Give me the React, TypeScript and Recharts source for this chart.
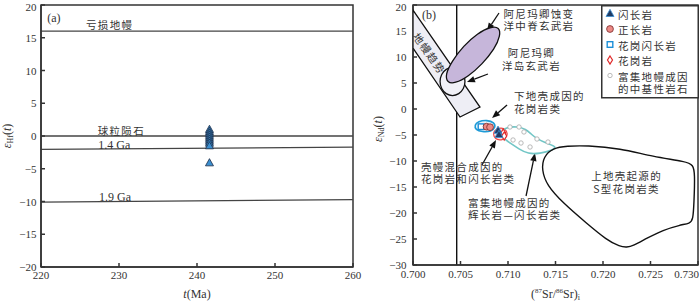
import React from "react";
import { ReferenceArea, ReferenceLine, Scatter, ScatterChart, XAxis, YAxis } from "recharts";

const SERIF = '"Liberation Serif", "DejaVu Serif", serif';
const CJK = '"Noto Sans CJK SC", "Noto Sans", sans-serif';
const INK = "#333";

// ---------- (a) εHf(t) – t(Ma) ----------
const ageTicks = [220, 230, 240, 250, 260];
const hfTicks = [20, 15, 10, 5, 0, -5, -10, -15, -20];
const dioriteAge = [241.6, 241.6, 241.6, 241.6, 241.6, 241.6, 241.6, 241.6, 241.6, 241.6];
const dioriteHf = [1.0, 0.7, 0.4, 0.1, -0.2, -0.5, -0.8, -1.1, -1.5, -4.1];
const hfLineNames = ["亏损地幔", "球粒陨石", "1.4 Ga", "1.9 Ga"];
const hfLineAt220 = [16, 0, -2.05, -10.1];
const hfLineAt260 = [16, 0, -1.7, -9.7];

// ---------- (b) εNd(t) – (87Sr/86Sr)i ----------
const srTicks = [0.7, 0.705, 0.71, 0.715, 0.72, 0.725, 0.73];
const ndTicks = [20, 15, 10, 5, 0, -5, -10, -15, -20, -25, -30];
const bulkEarthSr = 0.7046;

const mantleArray = [
  { x: 0.7, y: 19.0 }, { x: 0.70705, y: 0.38 }, { x: 0.70495, y: -1.54 }, { x: 0.7, y: 11.7 },
];
const oceanIslandBasalt = [
  { x: 0.70553, y: 5.29 }, { x: 0.70535, y: 6.7 }, { x: 0.70484, y: 7.73 }, { x: 0.70416, y: 8.12 },
  { x: 0.70347, y: 7.73 }, { x: 0.70297, y: 6.7 }, { x: 0.70279, y: 5.29 }, { x: 0.70297, y: 3.88 },
  { x: 0.70347, y: 2.85 }, { x: 0.70416, y: 2.46 }, { x: 0.70484, y: 2.85 }, { x: 0.70535, y: 3.88 },
];
const midRidgeBasalt = [
  { x: 0.7091, y: 15.71 }, { x: 0.7092, y: 14.13 }, { x: 0.7086, y: 11.56 }, { x: 0.7073, y: 8.65 },
  { x: 0.7058, y: 6.21 }, { x: 0.7044, y: 4.9 }, { x: 0.7036, y: 5.06 }, { x: 0.7034, y: 6.63 },
  { x: 0.7041, y: 9.21 }, { x: 0.7053, y: 12.12 }, { x: 0.7068, y: 14.56 }, { x: 0.7082, y: 15.87 },
];
const lowerCrustField = [
  { x: 0.70684, y: -2.4 }, { x: 0.70779, y: -2.1 }, { x: 0.70858, y: -2.6 }, { x: 0.70868, y: -3.56 },
  { x: 0.70826, y: -4.33 }, { x: 0.70726, y: -4.43 }, { x: 0.70658, y: -3.98 }, { x: 0.70648, y: -3.08 },
];
const hybridField = [
  { x: 0.70874, y: -3.85 }, { x: 0.70947, y: -3.56 }, { x: 0.7099, y: -4.23 }, { x: 0.70995, y: -5.19 },
  { x: 0.70947, y: -5.96 }, { x: 0.70884, y: -5.96 }, { x: 0.70847, y: -5.29 }, { x: 0.70847, y: -4.42 },
];
const enrichedMantleField = [
  { x: 0.70926, y: -4.23 }, { x: 0.71, y: -3.46 }, { x: 0.71095, y: -3.37 }, { x: 0.71189, y: -3.85 },
  { x: 0.71242, y: -4.81 }, { x: 0.71305, y: -5.77 }, { x: 0.71411, y: -6.63 }, { x: 0.71516, y: -7.21 },
  { x: 0.71463, y: -7.98 }, { x: 0.71337, y: -8.56 }, { x: 0.71211, y: -8.65 }, { x: 0.71116, y: -7.69 },
  { x: 0.71021, y: -6.54 }, { x: 0.70947, y: -5.58 },
];
const upperCrustField = [
  { x: 0.71355, y: -11.73 }, { x: 0.71372, y: -9.17 }, { x: 0.71474, y: -7.5 }, { x: 0.71618, y: -7.12 },
  { x: 0.71828, y: -7.02 }, { x: 0.72179, y: -7.56 }, { x: 0.72526, y: -9.17 }, { x: 0.72881, y: -10.13 },
  { x: 0.72947, y: -10.77 }, { x: 0.72968, y: -12.31 }, { x: 0.72958, y: -18.08 }, { x: 0.72947, y: -21.35 },
  { x: 0.72916, y: -21.98 }, { x: 0.72811, y: -22.31 }, { x: 0.72632, y: -23.27 }, { x: 0.7246, y: -24.87 },
  { x: 0.72316, y: -26.35 }, { x: 0.7225, y: -26.6 }, { x: 0.72179, y: -26.48 }, { x: 0.72039, y: -25.19 },
  { x: 0.71828, y: -21.98 }, { x: 0.71582, y: -18.13 }, { x: 0.71407, y: -14.62 },
];

const dioriteSrNd = [{ x: 0.70895, y: -4.1 }, { x: 0.70905, y: -4.9 }];
const syeniteSrNd = [{ x: 0.70774, y: -3.4 }, { x: 0.70811, y: -3.5 }];
const granodioriteSrNd = [{ x: 0.70716, y: -3.4 }];
const graniteSrNd = [{ x: 0.7095, y: -4.6 }, { x: 0.7096, y: -5.2 }];
const enrichedRocksSrNd = [
  { x: 0.71021, y: -3.46 }, { x: 0.71116, y: -3.46 }, { x: 0.71053, y: -5.96 }, { x: 0.71137, y: -6.54 },
  { x: 0.71232, y: -7.31 }, { x: 0.71305, y: -5.77 }, { x: 0.71421, y: -6.35 }, { x: 0.71168, y: -4.42 },
];

// arrows: tail -> head
const arrowsB = [
  [{ x: 0.70905, y: 18.46 }, { x: 0.70779, y: 15.0 }],
  [{ x: 0.70789, y: 6.73 }, { x: 0.70568, y: 5.19 }],
  [{ x: 0.7099, y: 0.77 }, { x: 0.70832, y: -1.73 }],
  [{ x: 0.70726, y: -10.77 }, { x: 0.70874, y: -5.96 }],
  [{ x: 0.7119, y: -16.73 }, { x: 0.71284, y: -8.46 }],
];

const notesA = [
  { x: 228.8, y: 17.1, lines: ["亏损地幔"], anchor: "middle", font: CJK },
  { x: 230.3, y: 0.9, lines: ["球粒陨石"], anchor: "middle", font: CJK },
  { x: 229.4, y: -1.45, lines: ["1.4 Ga"], anchor: "middle", font: SERIF },
  { x: 229.5, y: -9.3, lines: ["1.9 Ga"], anchor: "middle", font: SERIF },
  { x: 220.8, y: 18.0, lines: ["(a)"], anchor: "start", font: SERIF },
];
const notesB = [
  { x: 0.70095, y: 18.08, lines: ["(b)"], anchor: "start", font: SERIF },
  { x: 0.70179, y: 10.77, lines: ["地幔趋势"], anchor: "middle", font: CJK, rotate: 55 },
  { x: 0.71326, y: 18.55, lines: ["阿尼玛卿蚀变", "洋中脊玄武岩"], anchor: "middle", font: CJK },
  { x: 0.71247, y: 10.9, lines: ["阿尼玛卿", "洋岛玄武岩"], anchor: "middle", font: CJK },
  { x: 0.71063, y: 2.6, lines: ["下地壳成因的", "花岗岩类"], anchor: "start", font: CJK },
  { x: 0.70084, y: -10.95, lines: ["壳幔混合成因的", "花岗岩和闪长岩类"], anchor: "start", font: CJK },
  { x: 0.70579, y: -17.85, lines: ["富集地幔成因的", "辉长岩—闪长岩类"], anchor: "start", font: CJK },
  { x: 0.72248, y: -12.75, lines: ["上地壳起源的", "S型花岗岩类"], anchor: "middle", font: CJK },
];

const legendItems = [["闪长岩"], ["正长岩"], ["花岗闪长岩"], ["花岗岩"], ["富集地幔成因", "的中基性岩石"]];

const LINE_GAP = 12.5;
const minus = (v: number) => String(v).replace("-", "−");
const axisLine = { stroke: INK, strokeWidth: 1.5 };

// tick labels drawn at the positions recharts hands over
const YTick = (p: any) => (
  <text
    x={p.x}
    y={p.payload.value === 20 ? p.y + 1.5 : p.y}
    textAnchor="end"
    dominantBaseline="central"
    fontFamily={SERIF}
    fontSize={11}
    fill={INK}
  >
    {minus(p.payload.value)}
  </text>
);
const AgeTick = (p: any) => (
  <text x={p.x} y={p.y} textAnchor="middle" dominantBaseline="hanging" fontFamily={SERIF} fontSize={11} fill={INK}>
    {p.payload.value}
  </text>
);
const SrTick = (p: any) => {
  const last = p.index === srTicks.length - 1;
  return (
    <text x={last ? p.x + 1 : p.x} y={p.y} textAnchor={last ? "end" : "middle"} dominantBaseline="hanging" fontFamily={SERIF} fontSize={11} fill={INK}>
      {p.payload.value.toFixed(3)}
    </text>
  );
};

const Hidden = () => <g />;

const Note = (p: any) => {
  const n = p.payload;
  const serif = n.font === SERIF;
  return (
    <text
      x={p.cx}
      y={p.cy}
      textAnchor={n.anchor}
      dominantBaseline="central"
      fontFamily={n.font}
      fontSize={serif ? 12 : 10.5}
      letterSpacing={serif ? 0 : 1.3}
      fill={INK}
      transform={n.rotate ? `rotate(${n.rotate} ${p.cx} ${p.cy})` : undefined}
    >
      {n.lines.map((t: string, i: number) => (
        <tspan key={i} x={p.cx} dy={i === 0 ? 0 : LINE_GAP}>
          {t}
        </tspan>
      ))}
    </text>
  );
};

const Tri = ({ cx, cy, fill, stroke }: any) => (
  <polygon points={`${cx},${cy - 4.2} ${cx + 4},${cy + 3} ${cx - 4},${cy + 3}`} fill={fill} stroke={stroke} strokeWidth={0.8} />
);
const Dot = ({ cx, cy }: any) => <circle cx={cx} cy={cy} r={3.4} fill="#ec8a86" stroke="#7a2a2a" strokeWidth={0.8} />;
const Box = ({ cx, cy }: any) => (
  <rect x={cx - 2.8} y={cy - 2.8} width={5.6} height={5.6} fill="#fff" stroke="#1c8fd8" strokeWidth={1.4} />
);
const Diamond = ({ cx, cy }: any) => (
  <polygon points={`${cx},${cy - 4} ${cx + 2.5},${cy} ${cx},${cy + 4} ${cx - 2.5},${cy}`} fill="#fff" stroke="#e02828" strokeWidth={1.2} />
);
const Ring = ({ cx, cy }: any) => <circle cx={cx} cy={cy} r={2.2} fill="#fff" stroke="#a8a8a8" strokeWidth={0.8} />;

const Arrow = (p: any) => {
  const { x1, y1, x2, y2 } = p;
  const a = Math.atan2(y2 - y1, x2 - x1);
  const bx = x2 - 8 * Math.cos(a);
  const by = y2 - 8 * Math.sin(a);
  const s = Math.sin(a) * 3.2;
  const c = Math.cos(a) * 3.2;
  return (
    <g>
      <line x1={x1} y1={y1} x2={bx} y2={by} stroke="#111" strokeWidth={1.3} />
      <polygon points={`${x2},${y2} ${bx + s},${by - c} ${bx - s},${by + c}`} fill="#111" />
    </g>
  );
};

const HfTitle = ({ viewBox }: any) => {
  const x = viewBox.x + 11;
  const y = viewBox.y + viewBox.height / 2;
  return (
    <text x={x} y={y} transform={`rotate(-90 ${x} ${y})`} textAnchor="middle" fontFamily={SERIF} fontSize={12} fill={INK}>
      <tspan fontStyle="italic">ε</tspan>
      <tspan fontSize={8} dy={2}>Hf</tspan>
      <tspan dy={-2}>(</tspan>
      <tspan fontStyle="italic">t</tspan>
      <tspan>)</tspan>
    </text>
  );
};

const NdTitle = ({ viewBox }: any) => {
  const x = viewBox.x + 17;
  const y = viewBox.y + viewBox.height / 2 - 6;
  return (
    <text x={x} y={y} transform={`rotate(-90 ${x} ${y})`} textAnchor="middle" fontFamily={SERIF} fontSize={12} fill={INK}>
      <tspan fontStyle="italic">ε</tspan>
      <tspan fontSize={8} dy={2}>Nd</tspan>
      <tspan dy={-2}>(</tspan>
      <tspan fontStyle="italic">t</tspan>
      <tspan>)</tspan>
    </text>
  );
};

const AgeTitle = ({ viewBox }: any) => (
  <text x={viewBox.x + viewBox.width / 2} y={viewBox.y + 31} textAnchor="middle" fontFamily={SERIF} fontSize={12} fill={INK}>
    <tspan fontStyle="italic">t</tspan>
    <tspan>(Ma)</tspan>
  </text>
);

const SrTitle = ({ viewBox }: any) => (
  <text x={viewBox.x + viewBox.width / 2} y={viewBox.y + 33} textAnchor="middle" fontFamily={SERIF} fontSize={12} fill={INK}>
    <tspan>(</tspan>
    <tspan fontSize={7} dy={-5}>87</tspan>
    <tspan dy={5}>Sr/</tspan>
    <tspan fontSize={7} dy={-5}>86</tspan>
    <tspan dy={5}>Sr)</tspan>
    <tspan fontSize={8} dy={2}>i</tspan>
  </text>
);

const field = (data: any[], stroke: string, fill: string, curve: string, width = 1.3) => (
  <Scatter
    data={data}
    shape={Hidden}
    line={{ stroke, fill, strokeWidth: width }}
    lineJointType={curve as any}
    isAnimationActive={false}
    legendType="none"
  />
);

function PanelA() {
  const dioriteA = dioriteAge.map((x, i) => ({ x, y: dioriteHf[i] }));
  return (
    <ScatterChart width={365} height={304} margin={{ top: 5, right: 12, bottom: 0, left: 0 }}>
      <XAxis
        type="number"
        dataKey="x"
        domain={[220, 260]}
        ticks={ageTicks}
        interval={0}
        allowDataOverflow
        height={37}
        tickSize={-4}
        tickMargin={8}
        tick={AgeTick}
        axisLine={axisLine}
        tickLine={axisLine}
        label={{ content: AgeTitle }}
      />
      <YAxis
        type="number"
        dataKey="y"
        domain={[-20, 20]}
        ticks={hfTicks}
        interval={0}
        allowDataOverflow
        width={41}
        tickSize={-4}
        tickMargin={8.5}
        tick={YTick}
        axisLine={axisLine}
        tickLine={axisLine}
        label={{ content: HfTitle }}
      />
      <ReferenceArea x1={220} x2={260} y1={-20} y2={20} fill="none" stroke={INK} strokeWidth={1.5} />
      {hfLineNames.map((n, i) => (
        <ReferenceLine
          key={n}
          segment={[{ x: 220, y: hfLineAt220[i] }, { x: 260, y: hfLineAt260[i] }]}
          stroke="#444"
          strokeWidth={1.3}
        />
      ))}
      <Scatter data={dioriteA} shape={<Tri fill="#3b8fd0" stroke="#1c2c48" />} isAnimationActive={false} />
      <Scatter data={notesA} shape={Note} isAnimationActive={false} />
    </ScatterChart>
  );
}

function PanelB() {
  return (
    <ScatterChart width={335} height={304} margin={{ top: 5, right: 2, bottom: 0, left: 0 }}>
      <XAxis
        type="number"
        dataKey="x"
        domain={[0.7, 0.73]}
        ticks={srTicks}
        interval={0}
        allowDataOverflow
        height={39}
        tickSize={-4}
        tickMargin={9}
        tick={SrTick}
        axisLine={axisLine}
        tickLine={axisLine}
        label={{ content: SrTitle }}
      />
      <YAxis
        type="number"
        dataKey="y"
        domain={[-30, 20]}
        ticks={ndTicks}
        interval={0}
        allowDataOverflow
        width={48}
        tickSize={-4}
        tickMargin={10.5}
        tick={YTick}
        axisLine={axisLine}
        tickLine={axisLine}
        label={{ content: NdTitle }}
      />
      <ReferenceArea x1={0.7} x2={0.73} y1={-30} y2={20} fill="none" stroke={INK} strokeWidth={1.5} />
      {field(mantleArray, "#111", "#eeeef5", "linearClosed")}
      {field(oceanIslandBasalt, "#111", "#f1f1f7", "basisClosed")}
      <ReferenceLine x={bulkEarthSr} stroke="#111" strokeWidth={1.4} />
      {field(midRidgeBasalt, "#111", "#c6b6da", "basisClosed")}
      {field(lowerCrustField, "#1e9bd7", "#e4f3fb", "basisClosed", 1.6)}
      {field(hybridField, "#ee4a4a", "#fbe0e0", "basisClosed", 1.2)}
      {field(enrichedMantleField, "#72c6c6", "none", "basisClosed", 1.6)}
      {field(upperCrustField, "#111", "none", "basisClosed", 1.4)}
      <Scatter data={enrichedRocksSrNd} shape={Ring} isAnimationActive={false} />
      <Scatter data={granodioriteSrNd} shape={Box} isAnimationActive={false} />
      <Scatter data={syeniteSrNd} shape={Dot} isAnimationActive={false} />
      <Scatter data={graniteSrNd} shape={Diamond} isAnimationActive={false} />
      <Scatter data={dioriteSrNd} shape={<Tri fill="#1f3a63" stroke="#3b8fd0" />} isAnimationActive={false} />
      {arrowsB.map((seg, i) => (
        <ReferenceLine key={i} segment={seg} shape={Arrow} />
      ))}
      <Scatter data={notesB} shape={Note} isAnimationActive={false} />
    </ScatterChart>
  );
}

function LegendBox() {
  const rows = [8.5, 24, 39.5, 55, 70.5];
  const symbols = [
    <Tri key="t" cx={9} cy={rows[0]} fill="#1f3a63" stroke="#3b8fd0" />,
    <Dot key="c" cx={9} cy={rows[1]} />,
    <Box key="b" cx={9} cy={rows[2]} />,
    <Diamond key="d" cx={9} cy={rows[3]} />,
    <Ring key="r" cx={9} cy={rows[4]} />,
  ];
  return (
    <svg width={98} height={94} style={{ position: "absolute", left: 600.5, top: 4.5 }}>
      <rect x={0.75} y={0.75} width={96.5} height={92} fill="#fff" stroke={INK} strokeWidth={1.5} />
      {symbols}
      {legendItems.map((lines, i) => (
        <text key={i} x={17} y={rows[i]} dominantBaseline="central" fontFamily={CJK} fontSize={10.5} letterSpacing={1.3} fill={INK}>
          {lines.map((t, j) => (
            <tspan key={j} x={17} dy={j === 0 ? 0 : LINE_GAP}>
              {t}
            </tspan>
          ))}
        </text>
      ))}
    </svg>
  );
}

export default function App() {
  return (
    <div style={{ position: "absolute", left: 0, top: 0, width: 700, height: 304, background: "#fff" }}>
      <div style={{ position: "absolute", left: 0, top: 0 }}>
        <PanelA />
      </div>
      <div style={{ position: "absolute", left: 365, top: 0 }}>
        <PanelB />
      </div>
      <LegendBox />
    </div>
  );
}
